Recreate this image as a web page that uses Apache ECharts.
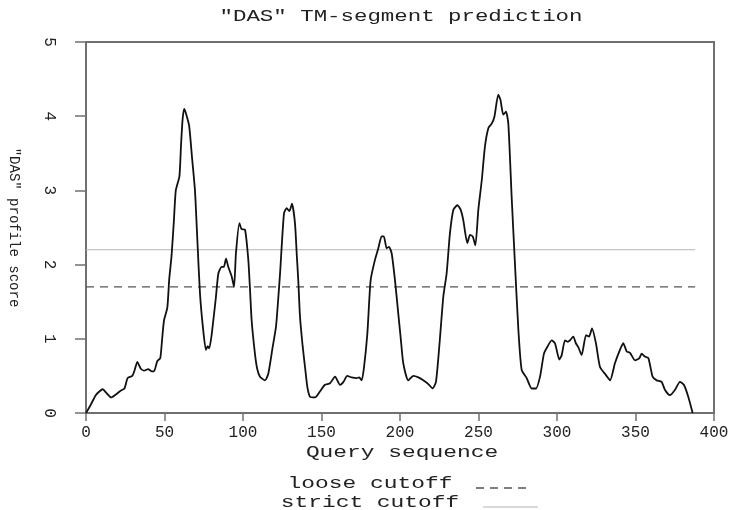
<!DOCTYPE html>
<html>
<head>
<meta charset="utf-8">
<script src="https://cdn.jsdelivr.net/npm/echarts@6/dist/echarts.min.js"></script>
<style>html,body{margin:0;padding:0;background:#fff}#c{width:739px;height:510px}</style>
</head>
<body>
<div id="c"></div>
<script>
// Query sequence positions and "DAS" profile scores
var seqPos = [0,3,6.2,8.5,10.7,13,16,19,22,24.5,26.5,29.5,31,32.7,34.8,37,39.5,42,43.3,45.4,47.3,48.5,49.7,51.8,53,54.5,56,57.2,59.5,60.5,61.5,62.5,63.5,65.7,67.5,69.4,71,72.6,74.5,76.4,77.5,78.5,80,81.1,82.7,84.3,86.4,87.8,89.2,90.6,92.8,94.3,95.5,97.7,99,101.3,103.4,104.5,105.5,107.6,109,110.8,114,116.1,118.9,121,122.3,123.6,126.1,127.8,129.5,131.2,133.1,134.2,135.2,136.3,138,139.5,141,142.7,145.9,149,152.2,155.4,158.6,161.8,164,166.4,169.2,172.4,174,175.6,177.1,179.2,181.3,184,186.2,188.3,189.7,191.5,193,194.7,196.8,198.9,200.5,202.1,205.3,208.5,211.7,214.8,218,220.8,222.9,225,227.6,229.7,231.8,234,236.5,238.6,240.3,242.9,244.6,246.3,248,249.9,252.1,254.1,256.3,258.4,260.1,262.6,264,265.8,267.5,269,271.1,273.2,275.4,277.5,280.7,283.9,286.6,289.2,291.7,293.8,296.6,298.7,301.5,303,305.1,306.8,308.3,310.4,312,313.5,315.7,318.5,320.4,322.3,324.8,327.4,331.2,333.8,336.9,340.1,342.2,344.4,346.5,349.7,352.5,353.9,356,358.2,360.9,363.5,366.6,368.8,371.9,375.1,378.3,380.8,383.6,386.4];
var dasScore = [0,0.11,0.24,0.29,0.32,0.27,0.21,0.25,0.3,0.33,0.47,0.5,0.58,0.69,0.6,0.57,0.59,0.56,0.56,0.7,0.74,1.0,1.25,1.42,1.8,2.12,2.6,3.0,3.19,3.6,3.95,4.1,4.05,3.87,3.45,3.0,2.3,1.61,1.15,0.85,0.9,0.87,1.05,1.25,1.55,1.88,1.97,1.97,2.08,1.97,1.84,1.7,2.15,2.56,2.48,2.47,2.06,1.65,1.25,0.8,0.6,0.49,0.44,0.53,0.89,1.16,1.5,1.88,2.69,2.76,2.72,2.82,2.56,2.15,1.79,1.3,0.9,0.62,0.35,0.22,0.21,0.29,0.38,0.4,0.49,0.38,0.42,0.5,0.48,0.47,0.48,0.44,0.62,1.07,1.79,2.06,2.22,2.38,2.38,2.22,2.24,2.15,1.79,1.34,1.0,0.67,0.44,0.5,0.48,0.44,0.39,0.33,0.42,0.89,1.57,1.88,2.42,2.74,2.8,2.74,2.6,2.29,2.4,2.38,2.26,2.74,3.14,3.59,3.84,3.9,3.99,4.29,4.22,4.02,4.06,3.9,2.92,2.02,1.12,0.58,0.47,0.33,0.33,0.49,0.8,0.89,0.98,0.94,0.72,0.78,0.98,0.96,0.98,1.03,0.94,0.89,0.78,1.05,1.03,1.14,0.94,0.62,0.51,0.44,0.67,0.85,0.94,0.83,0.81,0.71,0.74,0.8,0.76,0.74,0.49,0.44,0.42,0.31,0.24,0.31,0.42,0.38,0.22,0];
var cutoffRange = [0, 388];
var looseCutoff = 1.7;
var strictCutoff = 2.2;
var xTicks = [0, 400, 50];
var yTicks = [0, 5, 1];

var profile = seqPos.map(function (x, i) { return [x, dasScore[i]]; });
var looseData = cutoffRange.map(function (x) { return [x, looseCutoff]; });
var strictData = cutoffRange.map(function (x) { return [x, strictCutoff]; });

var mono = '"Liberation Mono", "DejaVu Sans Mono", monospace';
var axisGray = '#707070';

var chart = echarts.init(document.getElementById('c'), null, {renderer: 'canvas'});
chart.setOption({
  animation: false,
  backgroundColor: '#fff',
  grid: {left: 86, right: 25, top: 42, bottom: 97, outerBoundsMode: 'none', containLabel: false,
         show: true, borderColor: axisGray, borderWidth: 2, backgroundColor: 'transparent'},
  xAxis: {
    type: 'value', min: xTicks[0], max: xTicks[1], interval: xTicks[2],
    axisLine: {show: true, onZero: false, lineStyle: {color: axisGray, width: 2}},
    axisTick: {show: true, length: 8, lineStyle: {color: axisGray, width: 1.5}},
    axisLabel: {margin: 12, color: '#222', fontFamily: mono, fontSize: 16},
    splitLine: {show: false}
  },
  yAxis: {
    type: 'value', min: yTicks[0], max: yTicks[1], interval: yTicks[2],
    name: '"DAS" profile score', nameLocation: 'middle', nameRotate: -90, nameGap: 65,
    nameTextStyle: {color: '#222', fontFamily: mono, fontSize: 14},
    axisLine: {show: true, onZero: false, lineStyle: {color: axisGray, width: 2}},
    axisTick: {show: true, length: 11, lineStyle: {color: axisGray, width: 1.5}},
    axisLabel: {margin: 29, rotate: -90, color: '#222', fontFamily: mono, fontSize: 16},
    splitLine: {show: false}
  },
  series: [
    {name: 'strict cutoff', type: 'line', data: strictData, symbol: 'none', silent: true,
     lineStyle: {color: '#b4b4b4', width: 1}},
    {name: 'loose cutoff', type: 'line', data: looseData, symbol: 'none', silent: true,
     lineStyle: {color: '#555', width: 1.3, type: [8, 6]}},
    {name: 'DAS profile', type: 'line', data: profile, symbol: 'none', smooth: 0.2,
     lineStyle: {color: '#111', width: 1.8}}
  ],
  graphic: [
    {type: 'text', x: 401, y: 17, scaleX: 1.4,
     style: {text: '"DAS" TM-segment prediction', font: '16px ' + mono, fill: '#222', textAlign: 'center', textVerticalAlign: 'middle'}},
    {type: 'text', x: 402, y: 453, scaleX: 1.43,
     style: {text: 'Query sequence', font: '16px ' + mono, fill: '#222', textAlign: 'center', textVerticalAlign: 'middle'}},
    {type: 'text', x: 370, y: 484, scaleX: 1.43,
     style: {text: 'loose cutoff', font: '16px ' + mono, fill: '#222', textAlign: 'center', textVerticalAlign: 'middle'}},
    {type: 'text', x: 370, y: 503, scaleX: 1.43,
     style: {text: 'strict cutoff', font: '16px ' + mono, fill: '#222', textAlign: 'center', textVerticalAlign: 'middle'}},
    {type: 'line', shape: {x1: 476, y1: 488, x2: 532, y2: 488},
     style: {stroke: '#555', lineWidth: 1.3, lineDash: [8, 6]}},
    {type: 'line', shape: {x1: 483, y1: 507, x2: 538, y2: 507},
     style: {stroke: '#b4b4b4', lineWidth: 1}}
  ]
});
</script>
</body>
</html>
